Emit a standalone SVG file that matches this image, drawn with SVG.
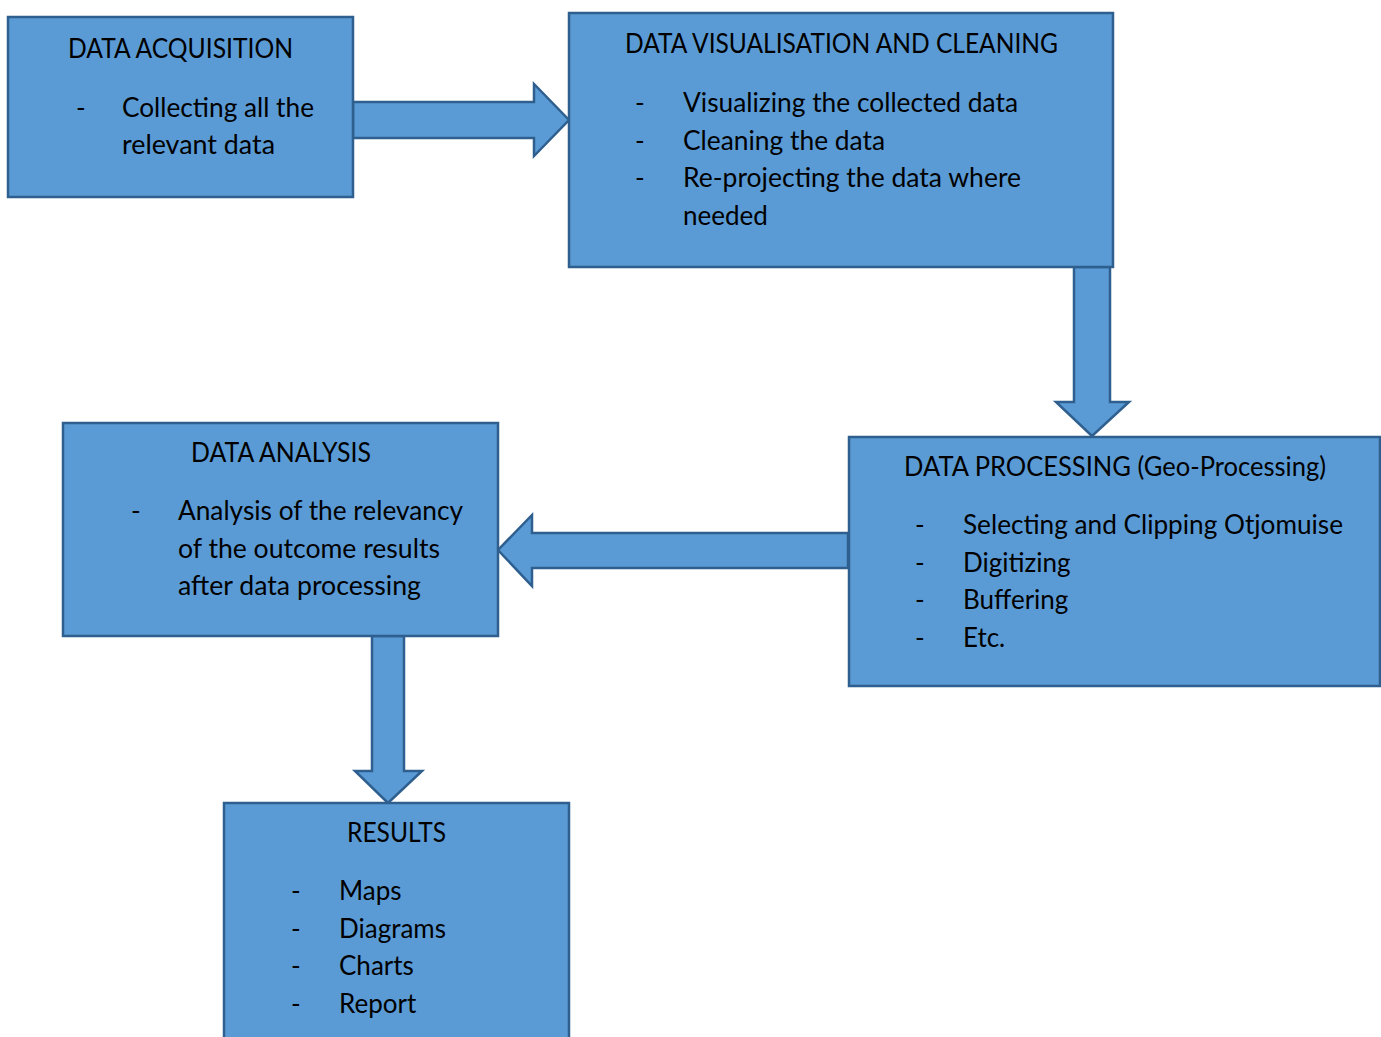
<svg xmlns="http://www.w3.org/2000/svg" width="1381" height="1037" viewBox="0 0 1381 1037">
<style>
.box{fill:#5B9BD5;stroke:#2E5F8E;stroke-width:2.5}
.arr{fill:#5B9BD5;stroke:#2E5F8E;stroke-width:2.5;stroke-linejoin:miter}
text{font-family:Lato,"Noto Sans",sans-serif;font-size:26px;fill:#000}
</style>
<rect width="1381" height="1037" fill="#fff"/>
<g id="connectors">
<polygon class="arr" points="353,102 534,102 534,84 569,120 534,156 534,138 353,138"/>
<polygon class="arr" points="1074,267 1110,267 1110,402 1129,402 1092,436 1056,402 1074,402"/>
<polygon class="arr" points="848,533 532,533 532,515 498,550 532,586 532,568 848,568"/>
<polygon class="arr" points="372,636 404,636 404,771 422,771 388,803 355,771 372,771"/>
</g>
<g id="acquisition">
<rect class="box" x="8" y="17" width="345" height="180"/>
<text x="68" y="58" textLength="225" lengthAdjust="spacingAndGlyphs">DATA ACQUISITION</text>
<text x="76" y="117">-</text>
<text x="122" y="117" textLength="192" lengthAdjust="spacingAndGlyphs">Collecting all the</text>
<text x="122" y="154" textLength="153" lengthAdjust="spacingAndGlyphs">relevant data</text>
</g>
<g id="visualisation">
<rect class="box" x="569" y="13" width="544" height="254"/>
<text x="625" y="53" textLength="433" lengthAdjust="spacingAndGlyphs">DATA VISUALISATION AND CLEANING</text>
<text x="635" y="112">-</text>
<text x="683" y="112" textLength="335" lengthAdjust="spacingAndGlyphs">Visualizing the collected data</text>
<text x="635" y="150">-</text>
<text x="683" y="150" textLength="202" lengthAdjust="spacingAndGlyphs">Cleaning the data</text>
<text x="635" y="187">-</text>
<text x="683" y="187" textLength="338" lengthAdjust="spacingAndGlyphs">Re-projecting the data where</text>
<text x="683" y="225">needed</text>
</g>
<g id="processing">
<rect class="box" x="849" y="437" width="531" height="249"/>
<text x="904" y="476" textLength="422" lengthAdjust="spacingAndGlyphs">DATA PROCESSING (Geo-Processing)</text>
<text x="915" y="534">-</text>
<text x="963" y="534" textLength="380" lengthAdjust="spacingAndGlyphs">Selecting and Clipping Otjomuise</text>
<text x="915" y="572">-</text>
<text x="963" y="572">Digitizing</text>
<text x="915" y="609">-</text>
<text x="963" y="609">Buffering</text>
<text x="915" y="647">-</text>
<text x="963" y="647">Etc.</text>
</g>
<g id="analysis">
<rect class="box" x="63" y="423" width="435" height="213"/>
<text x="191" y="462" textLength="180" lengthAdjust="spacingAndGlyphs">DATA ANALYSIS</text>
<text x="131" y="520">-</text>
<text x="178" y="520" textLength="285" lengthAdjust="spacingAndGlyphs">Analysis of the relevancy</text>
<text x="178" y="558" textLength="262" lengthAdjust="spacingAndGlyphs">of the outcome results</text>
<text x="178" y="595" textLength="243" lengthAdjust="spacingAndGlyphs">after data processing</text>
</g>
<g id="results">
<rect class="box" x="224" y="803" width="345" height="250"/>
<text x="347" y="842" textLength="99" lengthAdjust="spacingAndGlyphs">RESULTS</text>
<text x="291" y="900">-</text>
<text x="339" y="900">Maps</text>
<text x="291" y="938">-</text>
<text x="339" y="938">Diagrams</text>
<text x="291" y="975">-</text>
<text x="339" y="975">Charts</text>
<text x="291" y="1013">-</text>
<text x="339" y="1013">Report</text>
</g>
</svg>
